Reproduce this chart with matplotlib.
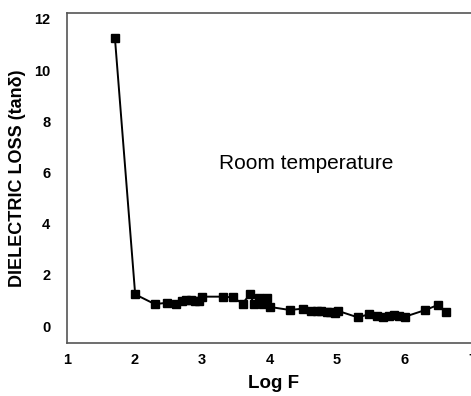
import matplotlib
matplotlib.use("Agg")
import matplotlib.pyplot as plt

# log frequency and loss tangent
log_f = [1.71, 2.01, 2.30, 2.48, 2.61, 2.70, 2.76, 2.83, 2.90, 2.95, 3.00,
         3.31, 3.46, 3.60, 3.71, 3.77, 3.85, 3.90, 3.96, 4.00,
         4.30, 4.49, 4.62, 4.70, 4.77, 4.85, 4.90, 4.97, 5.02,
         5.31, 5.48, 5.59, 5.68, 5.77, 5.85, 5.92, 6.01,
         6.31, 6.49, 6.61]
tan_d = [11.25, 1.24, 0.86, 0.91, 0.85, 0.98, 1.02, 1.02, 0.99, 1.00, 1.15,
         1.15, 1.12, 0.88, 1.24, 0.86, 1.11, 0.86, 1.11, 0.75,
         0.63, 0.68, 0.59, 0.59, 0.58, 0.57, 0.54, 0.52, 0.59,
         0.34, 0.47, 0.39, 0.37, 0.39, 0.42, 0.40, 0.37,
         0.63, 0.82, 0.56]

x_ticks = [1, 2, 3, 4, 5, 6, 7]
y_ticks = [0, 2, 4, 6, 8, 10, 12]

plt.rcParams['font.family'] = ['Liberation Sans', 'DejaVu Sans']

fig = plt.figure(figsize=(4.71, 3.96), dpi=100)
ax = fig.add_axes([67 / 471, 53 / 396, 413 / 471, 330 / 396])

ax.plot(log_f, tan_d, color='black', lw=1.4, marker='s', ms=5.5,
        mfc='black', mec='black')

ax.set_xlim(1, 1 + 413 / 67.5)
ax.set_ylim(-0.66, 12.23)
ax.set_xticks(x_ticks)
ax.set_yticks(y_ticks)
ax.tick_params(length=0, labelsize=10.5)
ax.tick_params(axis='x', pad=7)
ax.tick_params(axis='y', pad=12)
for lab in ax.get_xticklabels() + ax.get_yticklabels():
    lab.set_fontweight('bold')

for sp in ax.spines.values():
    sp.set_color('#555555')
    sp.set_linewidth(1.2)

ax.set_xlabel('Log F', fontsize=13.5, fontweight='bold', labelpad=6)
ax.set_ylabel('DIELECTRIC LOSS (tan\u03b4)', fontsize=13, fontweight='bold',
              labelpad=6)

ax.text(3.25, 6.37, 'Room temperature', fontsize=15, va='center', ha='left')

fig.savefig('out.png', dpi=100)
